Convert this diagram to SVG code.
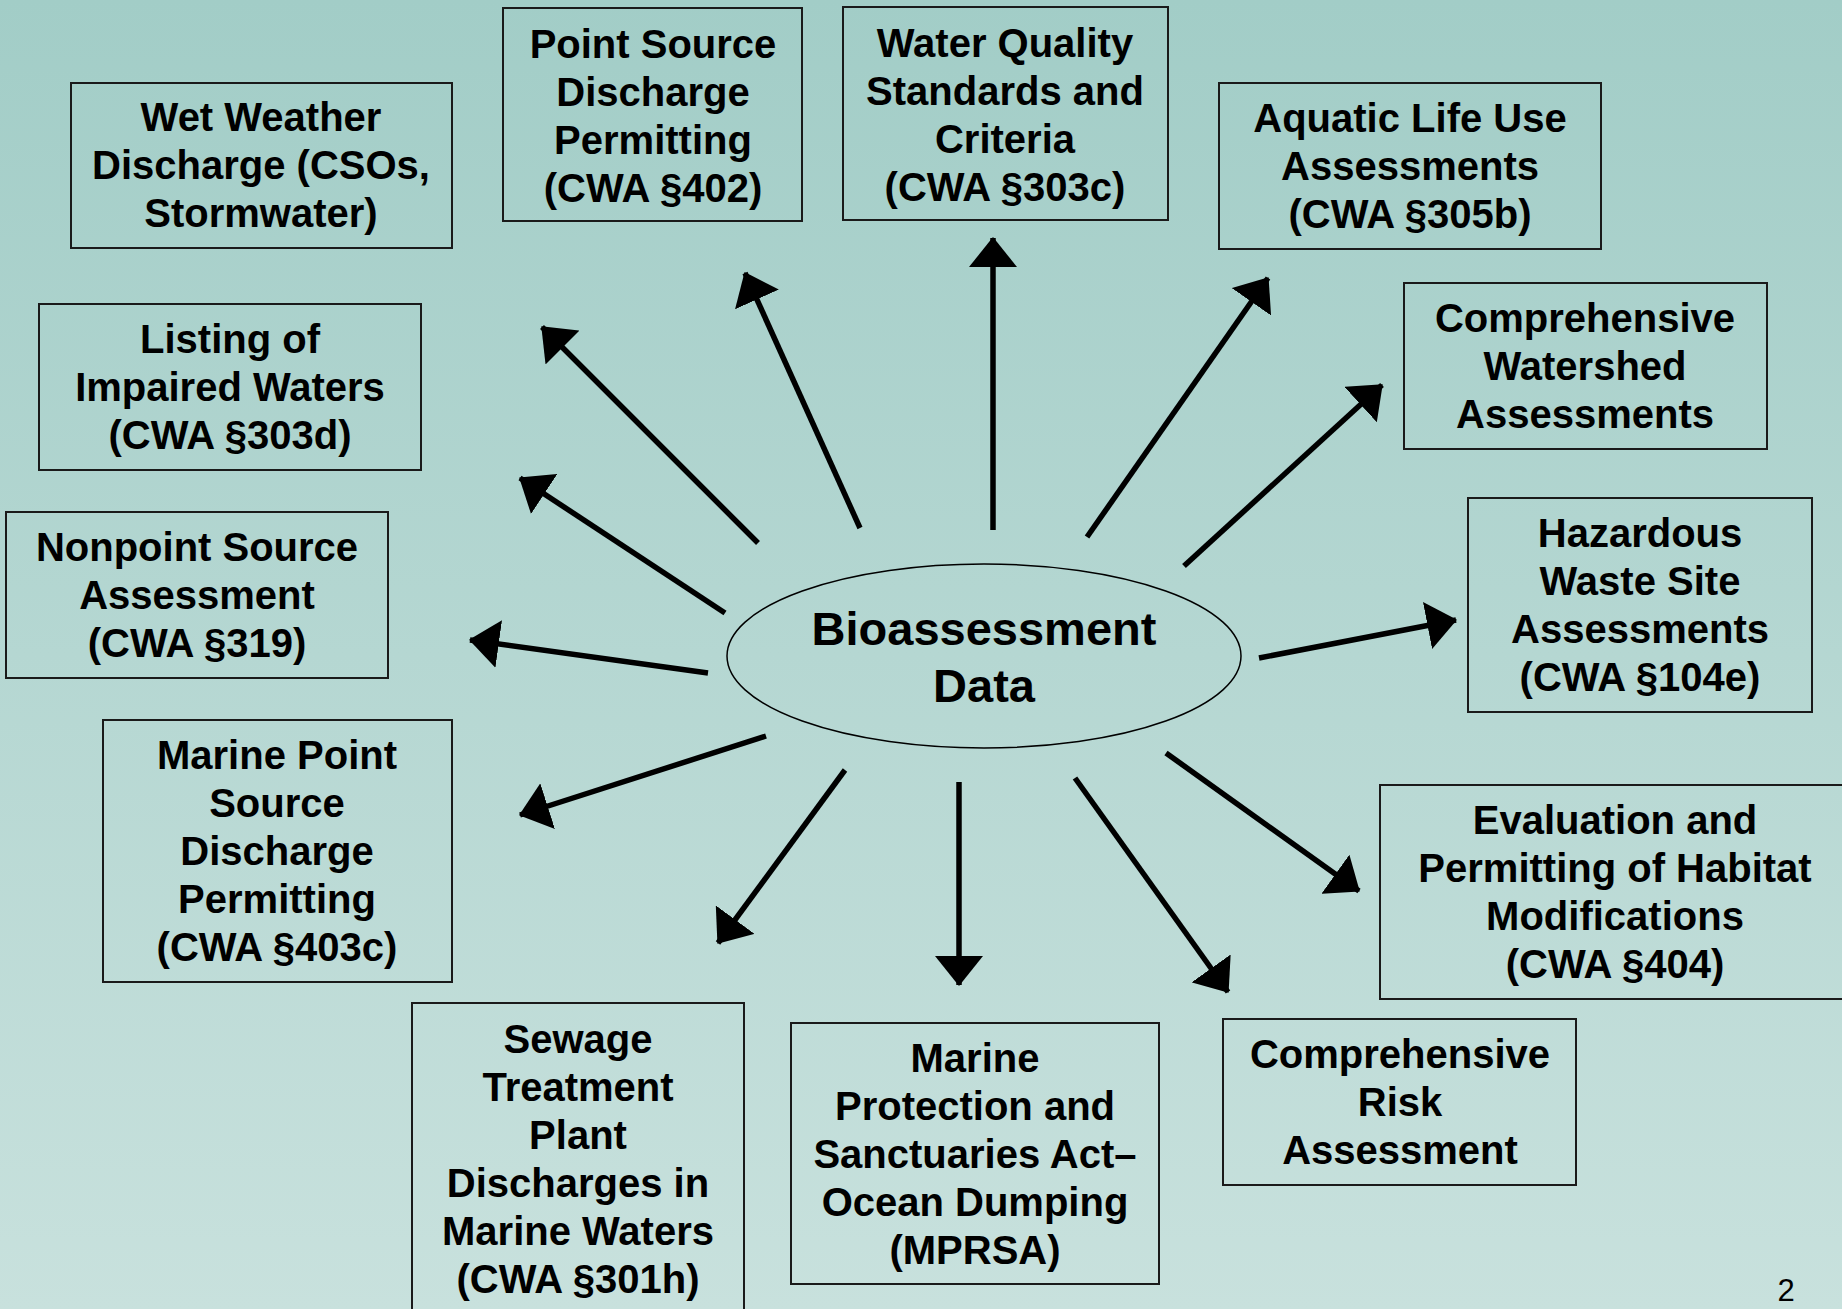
<svg xmlns="http://www.w3.org/2000/svg" width="1842" height="1309" viewBox="0 0 1842 1309">
<defs>
<linearGradient id="bg" x1="0" y1="0" x2="0" y2="1">
<stop offset="0" stop-color="#a2cdc7"/>
<stop offset="1" stop-color="#c8e1dd"/>
</linearGradient>
<marker id="ah" markerUnits="userSpaceOnUse" markerWidth="30" markerHeight="48" refX="29" refY="24" orient="auto">
<path d="M0,0 L30,24 L0,48 Z" fill="#000"/>
</marker>
<style>
.box{fill:none;stroke:#1a1a1a;stroke-width:2}
.t{font-family:"Liberation Sans",Arial,Helvetica,sans-serif;font-weight:bold;font-size:40px;fill:#000;text-anchor:middle}
.c{font-family:"Liberation Sans",Arial,Helvetica,sans-serif;font-weight:bold;font-size:47px;fill:#000;text-anchor:middle}
.ar{stroke:#000;stroke-width:5.5;fill:none;marker-end:url(#ah)}
</style>
</defs>
<rect x="0" y="0" width="1842" height="1309" fill="url(#bg)"/>

<g id="center">
<ellipse cx="984" cy="656" rx="257" ry="92" fill="none" stroke="#000" stroke-width="1.5"/>
<text class="c" x="984" y="645">Bioassessment</text>
<text class="c" x="984" y="702">Data</text>
</g>

<g id="wet-weather">
<rect class="box" x="71" y="83" width="381" height="165"/>
<text class="t" x="261" y="131">Wet Weather</text>
<text class="t" x="261" y="179">Discharge (CSOs,</text>
<text class="t" x="261" y="227">Stormwater)</text>
</g>

<g id="point-source">
<rect class="box" x="503" y="8" width="299" height="213"/>
<text class="t" x="653" y="58">Point Source</text>
<text class="t" x="653" y="106">Discharge</text>
<text class="t" x="653" y="154">Permitting</text>
<text class="t" x="653" y="202">(CWA §402)</text>
</g>

<g id="water-quality">
<rect class="box" x="843" y="7" width="325" height="213"/>
<text class="t" x="1005" y="57">Water Quality</text>
<text class="t" x="1005" y="105">Standards and</text>
<text class="t" x="1005" y="153">Criteria</text>
<text class="t" x="1005" y="201">(CWA §303c)</text>
</g>

<g id="aquatic-life">
<rect class="box" x="1219" y="83" width="382" height="166"/>
<text class="t" x="1410" y="132">Aquatic Life Use</text>
<text class="t" x="1410" y="180">Assessments</text>
<text class="t" x="1410" y="228">(CWA §305b)</text>
</g>

<g id="watershed">
<rect class="box" x="1404" y="283" width="363" height="166"/>
<text class="t" x="1585" y="332">Comprehensive</text>
<text class="t" x="1585" y="380">Watershed</text>
<text class="t" x="1585" y="428">Assessments</text>
</g>

<g id="listing">
<rect class="box" x="39" y="304" width="382" height="166"/>
<text class="t" x="230" y="353">Listing of</text>
<text class="t" x="230" y="401">Impaired Waters</text>
<text class="t" x="230" y="449">(CWA §303d)</text>
</g>

<g id="nonpoint">
<rect class="box" x="6" y="512" width="382" height="166"/>
<text class="t" x="197" y="561">Nonpoint Source</text>
<text class="t" x="197" y="609">Assessment</text>
<text class="t" x="197" y="657">(CWA §319)</text>
</g>

<g id="hazardous">
<rect class="box" x="1468" y="498" width="344" height="214"/>
<text class="t" x="1640" y="547">Hazardous</text>
<text class="t" x="1640" y="595">Waste Site</text>
<text class="t" x="1640" y="643">Assessments</text>
<text class="t" x="1640" y="691">(CWA §104e)</text>
</g>

<g id="marine-point">
<rect class="box" x="103" y="720" width="349" height="262"/>
<text class="t" x="277" y="769">Marine Point</text>
<text class="t" x="277" y="817">Source</text>
<text class="t" x="277" y="865">Discharge</text>
<text class="t" x="277" y="913">Permitting</text>
<text class="t" x="277" y="961">(CWA §403c)</text>
</g>

<g id="habitat">
<rect class="box" x="1380" y="785" width="470" height="214"/>
<text class="t" x="1615" y="834">Evaluation and</text>
<text class="t" x="1615" y="882">Permitting of Habitat</text>
<text class="t" x="1615" y="930">Modifications</text>
<text class="t" x="1615" y="978">(CWA §404)</text>
</g>

<g id="sewage">
<rect class="box" x="412" y="1003" width="332" height="320"/>
<text class="t" x="578" y="1053">Sewage</text>
<text class="t" x="578" y="1101">Treatment</text>
<text class="t" x="578" y="1149">Plant</text>
<text class="t" x="578" y="1197">Discharges in</text>
<text class="t" x="578" y="1245">Marine Waters</text>
<text class="t" x="578" y="1293">(CWA §301h)</text>
</g>

<g id="mprsa">
<rect class="box" x="791" y="1023" width="368" height="261"/>
<text class="t" x="975" y="1072">Marine</text>
<text class="t" x="975" y="1120">Protection and</text>
<text class="t" x="975" y="1168">Sanctuaries Act–</text>
<text class="t" x="975" y="1216">Ocean Dumping</text>
<text class="t" x="975" y="1264">(MPRSA)</text>
</g>

<g id="risk">
<rect class="box" x="1223" y="1019" width="353" height="166"/>
<text class="t" x="1400" y="1068">Comprehensive</text>
<text class="t" x="1400" y="1116">Risk</text>
<text class="t" x="1400" y="1164">Assessment</text>
</g>

<g id="connectors">
<line class="ar" x1="758" y1="543" x2="542" y2="327"/>
<line class="ar" x1="725" y1="613" x2="520" y2="478"/>
<line class="ar" x1="708" y1="673" x2="470" y2="640"/>
<line class="ar" x1="860" y1="528" x2="745" y2="273"/>
<line class="ar" x1="766" y1="736" x2="520" y2="815"/>
<line class="ar" x1="845" y1="770" x2="718" y2="943"/>
<line class="ar" x1="959" y1="782" x2="959" y2="985"/>
<line class="ar" x1="1075" y1="778" x2="1228" y2="992"/>
<line class="ar" x1="1166" y1="753" x2="1359" y2="891"/>
<line class="ar" x1="1259" y1="658" x2="1456" y2="620"/>
<line class="ar" x1="1184" y1="566" x2="1382" y2="385"/>
<line class="ar" x1="1087" y1="537" x2="1268" y2="278"/>
<line class="ar" x1="993" y1="530" x2="993" y2="238"/>
</g>

<text x="1786" y="1301" font-family="Liberation Sans, Arial, sans-serif" font-size="31" text-anchor="middle" fill="#000">2</text>
</svg>
